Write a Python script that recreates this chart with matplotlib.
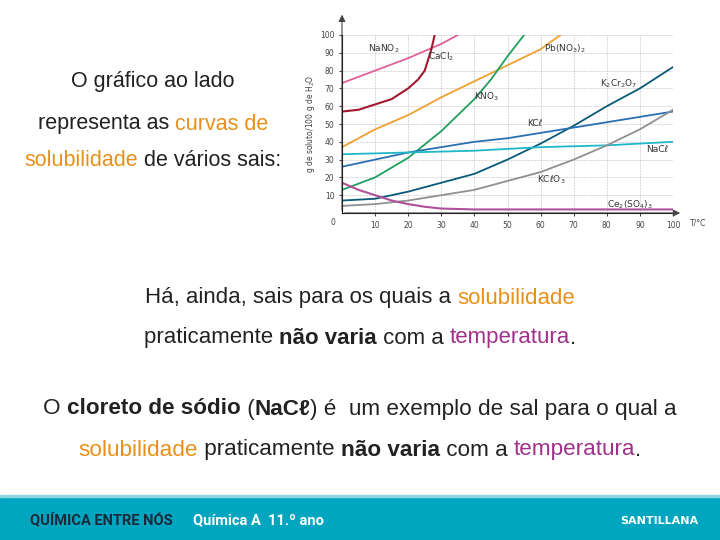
import matplotlib.pyplot as plt
from matplotlib.patches import Rectangle

# Solubility data (g / 100 g H2O)
T_nano2 = [0, 10, 20, 30, 35]
S_nano2 = [73, 80, 87, 95, 100]
T_cacl2 = [0, 5, 10, 15, 20, 23, 25, 27, 28]
S_cacl2 = [57, 58, 61, 64, 70, 75, 80, 92, 100]
T_pb = [0, 10, 20, 30, 40, 50, 60, 66]
S_pb = [37, 47, 55, 65, 74, 83, 92, 100]
T_kno3 = [0, 10, 20, 30, 40, 45, 50, 55]
S_kno3 = [13, 20, 31, 46, 64, 75, 88, 100]
T_all = [0, 10, 20, 30, 40, 50, 60, 70, 80, 90, 100]
S_k2cr = [7, 8, 12, 17, 22, 30, 39, 49, 60, 70, 82]
S_kcl = [26, 30, 34, 37, 40, 42, 45, 48, 51, 54, 57]
S_nacl = [33, 33.5, 34, 34.5, 35, 36, 37, 37.5, 38, 39, 40]
S_kclo3 = [4, 5, 7, 10, 13, 18, 23, 30, 38, 47, 58]
T_ce = [0, 5, 10, 15, 20, 25, 30, 40, 100]
S_ce = [17, 13, 10, 7, 5, 3.5, 2.5, 2, 2]

fig = plt.figure(figsize=(7.2, 5.4), dpi=100)
ax = fig.add_axes([342 / 720, 1 - 213 / 540, 331 / 720, 178 / 540])

ax.plot(T_nano2, S_nano2, color='#e0609a', lw=1.3)
ax.plot(T_cacl2, S_cacl2, color='#a0182e', lw=1.5)
ax.plot(T_pb, S_pb, color='#f0a030', lw=1.3)
ax.plot(T_kno3, S_kno3, color='#1fa060', lw=1.3)
ax.plot(T_all, S_k2cr, color='#0a5a78', lw=1.3)
ax.plot(T_all, S_kcl, color='#2a70b0', lw=1.3)
ax.plot(T_all, S_nacl, color='#20b8c8', lw=1.3)
ax.plot(T_all, S_kclo3, color='#909090', lw=1.3)
ax.plot(T_ce, S_ce, color='#b0509a', lw=1.5)

ax.set_xlim(0, 100)
ax.set_ylim(0, 100)
ax.set_xticks(range(10, 101, 10))
ax.set_yticks(range(10, 101, 10))
ax.grid(True, ls='--', lw=0.4, color='#bbbbbb')
ax.tick_params(labelsize=5.5, length=2, colors='#444444')
for s in ['top', 'right']:
    ax.spines[s].set_visible(False)
ax.annotate('', xy=(0, 113), xytext=(0, 0), annotation_clip=False,
            arrowprops=dict(arrowstyle='-|>', color='#444444', lw=0.8))
ax.annotate('', xy=(103, 0), xytext=(0, 0), annotation_clip=False,
            arrowprops=dict(arrowstyle='-|>', color='#444444', lw=0.8))
ax.text(-2, -3, '0', fontsize=5.5, ha='right', va='top', color='#444444')
ax.text(105, -3, 'T/°C', fontsize=5.5, va='top', color='#444444')
ax.set_ylabel('g de soluto/100 g de H$_2$O', fontsize=5.5, color='#444444', labelpad=2)

lab = dict(fontsize=6.5, color='#333333')
ax.text(8, 91, 'NaNO$_2$', **lab)
ax.text(26, 86, 'CaCl$_2$', **lab)
ax.text(61, 91, 'Pb(NO$_3$)$_2$', **lab)
ax.text(40, 64, 'KNO$_3$', **lab)
ax.text(78, 71, 'K$_2$Cr$_2$O$_7$', **lab)
ax.text(56, 49, 'KCℓ', **lab)
ax.text(92, 34, 'NaCℓ', **lab)
ax.text(59, 17, 'KCℓO$_3$', **lab)
ax.text(80, 3, 'Ce$_2$(SO$_4$)$_3$', **lab)

ORANGE = '#e8901a'
PURPLE = '#a0308a'
BLACK = '#222222'
FAM = ['Liberation Sans', 'DejaVu Sans']


def rich_line(xc, y, parts, size=15.5):
    # draw coloured pieces side by side, then centre the whole line on xc
    r = fig.canvas.get_renderer()
    texts = []
    x = 0
    for txt, col, bold in parts:
        t = fig.text(x, y, txt, color=col, fontsize=size, va='center', family=FAM,
                     fontweight='bold' if bold else 'normal', transform=None)
        w = t.get_window_extent(r).width
        texts.append((t, x))
        x += w
    start = xc - x / 2
    for t, off in texts:
        t.set_position((start + off, 540 - y))


fig.canvas.draw()
rich_line(153, 82, [('O gráfico ao lado', BLACK, False)])
rich_line(153, 124, [('representa as ', BLACK, False), ('curvas de', ORANGE, False)])
rich_line(153, 160, [('solubilidade', ORANGE, False), (' de vários sais:', BLACK, False)])
rich_line(360, 298, [('Há, ainda, sais para os quais a ', BLACK, False), ('solubilidade', ORANGE, False)], 16)
rich_line(360, 338, [('praticamente ', BLACK, False), ('não varia', BLACK, True),
                     (' com a ', BLACK, False), ('temperatura', PURPLE, False), ('.', BLACK, False)], 16)
rich_line(360, 409, [('O ', BLACK, False), ('cloreto de sódio', BLACK, True), (' (', BLACK, False),
                     ('NaCℓ', BLACK, True), (') é  um exemplo de sal para o qual a', BLACK, False)], 16.2)
rich_line(360, 450, [('solubilidade', ORANGE, False), (' praticamente ', BLACK, False),
                     ('não varia', BLACK, True), (' com a ', BLACK, False),
                     ('temperatura', PURPLE, False), ('.', BLACK, False)], 16.2)

# footer band
fig.patches.append(Rectangle((0, 0), 1, 43 / 540, transform=fig.transFigure,
                             color='#00a6bf', zorder=0))
fig.patches.append(Rectangle((0, 43 / 540), 1, 2 / 540, transform=fig.transFigure,
                             color='#8fd6e0', zorder=0))
fig.text(30 / 720, 20 / 540, 'QUÍMICA ENTRE NÓS', fontsize=10.5, fontweight='bold',
         color='#1a2a3a', va='center', family='Roboto', fontstretch='condensed')
fig.text(193 / 720, 20 / 540, 'Química A  11.º ano', fontsize=10.5, fontweight='bold',
         color='white', va='center', family='Roboto')
fig.text(620 / 720, 19 / 540, 'SANTILLANA', fontsize=8, fontweight='bold',
         color='white', va='center')

fig.savefig('out.png', dpi=100)
